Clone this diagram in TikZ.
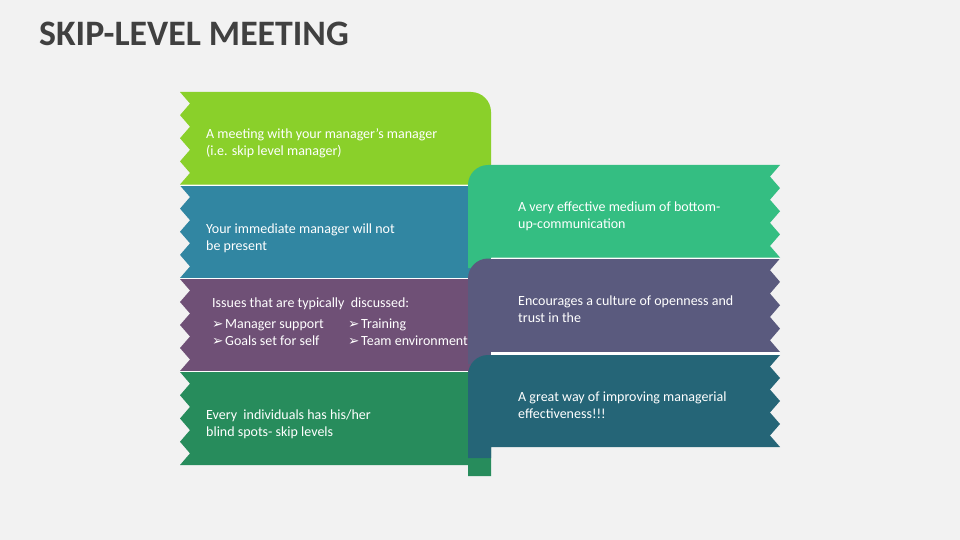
\documentclass[tikz,border=0pt]{standalone}
\usepackage{fontspec}
\setmainfont{Carlito}
\newfontfamily\dejavu{DejaVu Sans}
\definecolor{bgc}{RGB}{242,242,242}
\definecolor{cLime}{RGB}{138,208,42}
\definecolor{cTeal}{RGB}{49,134,162}
\definecolor{cPurple}{RGB}{111,80,118}
\definecolor{cGreen}{RGB}{39,140,92}
\definecolor{cGreenA}{RGB}{52,190,130}
\definecolor{cSlate}{RGB}{90,90,126}
\definecolor{cTealC}{RGB}{37,101,119}
\definecolor{cTitle}{RGB}{64,64,64}
\newcommand\arrowbul{\makebox[13pt][l]{\dejavu\fontsize{13.5}{13.5}\selectfont ➢}}
\begin{document}
\begin{tikzpicture}[x=1pt,y=-1pt,
  txt/.style={text=white, font=\fontsize{14}{17}\selectfont, align=left, inner sep=0pt, anchor=base west},
  sepline/.style={draw=white, line width=1pt}]
\fill[bgc] (0,0) rectangle (960,540);
\useasboundingbox (0,0) rectangle (960,540);
% title
\node[anchor=base west, inner sep=0pt, text=cTitle, font=\fontsize{35.8}{40}\selectfont\bfseries] (title) at (39,46) {SKIP-LEVEL MEETING};
% left bands
\fill[cLime] (180,92) -- (471,92) .. controls (482,92) and (491,101) .. (491,112) -- (491,195) -- (468,195) -- (468,184.5) -- (180,184.5)
  \foreach \k in {4,3,2,1} { -- (190,{92+(\k-0.5)*23.125}) -- (180,{92+(\k-1)*23.125}) } -- cycle;
\fill[cTeal] (180,185.5) -- (491,185.5) -- (491,289) -- (468,289) -- (468,278) -- (180,278)
  \foreach \k in {4,3,2,1} { -- (190,{185.5+(\k-0.5)*23.125}) -- (180,{185.5+(\k-1)*23.125}) } -- cycle;
\fill[cPurple] (180,279) -- (491,279) -- (491,382) -- (468,382) -- (468,371) -- (180,371)
  \foreach \k in {4,3,2,1} { -- (190,{279+(\k-0.5)*23}) -- (180,{279+(\k-1)*23}) } -- cycle;
\fill[cGreen] (180,372) -- (491,372) -- (491,476) -- (468,476) -- (468,465) -- (180,465)
  \foreach \k in {4,3,2,1} { -- (190,{372+(\k-0.5)*23.25}) -- (180,{372+(\k-1)*23.25}) } -- cycle;
\draw[sepline] (180,185) -- (468,185);
\draw[sepline] (180,278.5) -- (468,278.5);
\draw[sepline] (180,371.5) -- (468,371.5);
% right bands
\fill[cGreenA] (468,268) -- (468,185) .. controls (468,174) and (477,165) .. (488,165) -- (780,165)
  \foreach \k in {1,2,3,4} { -- (770,{165+(\k-0.5)*23.125}) -- (780,{165+\k*23.125}) } -- (491,257.5) -- (491,268) -- cycle;
\fill[cSlate] (468,364) -- (468,278.5) .. controls (468,267.5) and (477,258.5) .. (488,258.5) -- (780,258.5)
  \foreach \k in {1,2,3,4} { -- (770,{258.5+(\k-0.5)*23.375}) -- (780,{258.5+\k*23.375}) } -- (491,352) -- (491,364) -- cycle;
\draw[sepline] (491,258) -- (780,258);
\fill[white] (491,352) rectangle (780,355);
\fill[cTealC] (468,458) -- (468,375) .. controls (468,364) and (477,355) .. (488,355) -- (780,355)
  \foreach \k in {1,2,3,4} { -- (770,{355+(\k-0.5)*23}) -- (780,{355+\k*23}) } -- (491,447) -- (491,458) -- cycle;
% texts (base anchor = baseline of the last line)
\node[txt] (t1) at (206,156) {A meeting with your manager’s manager\\(i.e. skip level manager)};
\node[txt] (t2) at (206,250) {Your immediate manager will not\\be present};
\node[txt] (t3) at (212,307) {Issues that are typically\ \ discussed:};
\node[txt] (b1) at (212,328) {\arrowbul Manager support};
\node[txt] (b2) at (348,328) {\arrowbul Training};
\node[txt] (b3) at (212,345) {\arrowbul Goals set for self};
\node[txt] (b4) at (348,345) {\arrowbul Team environment};
\node[txt] (t4) at (206,436) {Every\ \ individuals has his/her\\blind spots- skip levels};
\node[txt] (ta) at (518,228) {A very effective medium of bottom-\\up-communication};
\node[txt] (tb) at (518,322) {Encourages a culture of openness and\\trust in the};
\node[txt] (tc) at (518,418) {A great way of improving managerial\\effectiveness!!!};
\end{tikzpicture}
\end{document}
